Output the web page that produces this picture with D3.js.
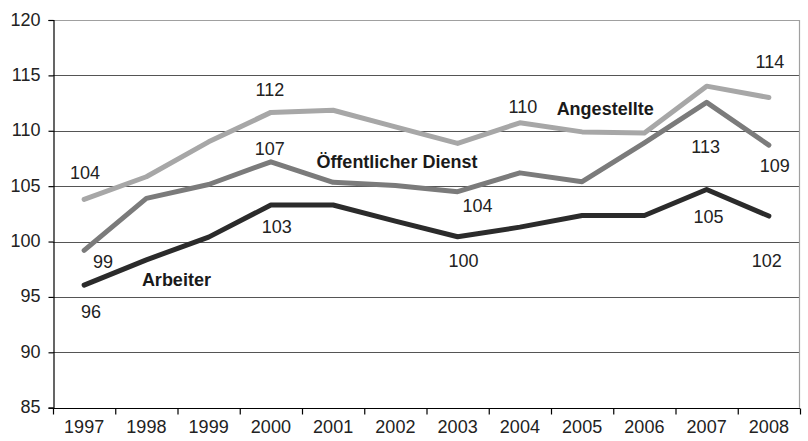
<!DOCTYPE html>
<html><head><meta charset="utf-8">
<script src="https://cdn.jsdelivr.net/npm/d3@7"></script>
<style>
html,body{margin:0;padding:0;background:#fff;}
svg text{font-family:"Liberation Sans Narrow","Arial Narrow","Liberation Sans",sans-serif;}
</style></head>
<body><svg id="c" width="808" height="441"></svg>
<script>
const years = [1997,1998,1999,2000,2001,2002,2003,2004,2005,2006,2007,2008];
const angestellte = [103.8,105.85,109.0,111.66,111.85,110.35,108.86,110.72,109.9,109.8,114.03,113.0];
const oeffentlich = [99.2,103.9,105.15,107.2,105.35,105.05,104.5,106.2,105.4,108.9,112.56,108.7];
const arbeiter    = [96.07,98.35,100.4,103.3,103.3,101.85,100.43,101.3,102.35,102.35,104.7,102.3];
const yTicks = [85,90,95,100,105,110,115,120];

const seriesNames = ["Angestellte","Öffentlicher Dienst","Arbeiter"];
const seriesValues = [angestellte, oeffentlich, arbeiter];
const seriesColors = ["#a7a7a7","#7b7b7b","#2b2b2b"];

// value labels: [year, anchor value, text]
const labelsAng = [[1997,105.65,"104"],[2000,113.14,"112"],[2004,111.63,"110"],[2008,115.67,"114"]];
const labelsOef = [[1997,97.61,"99"],[2000,107.81,"107"],[2003,102.67,"104"],[2007,107.99,"113"],[2008,106.28,"109"]];
const labelsArb = [[1997,93.12,"96"],[2000,100.77,"103"],[2003,97.73,"100"],[2007,101.67,"105"],[2008,97.73,"102"]];
// series name labels: [year, anchor value]
const nameAnchors = [[2005,111.42],[2002,106.65],[1998,95.99]];

const svg = d3.select("#c");
const L = 53, R = 800, T = 20, B = 407.7;
const x = d3.scaleBand().domain(years).range([L,R]).paddingInner(0).paddingOuter(0);
const xEdge = d3.scaleLinear().domain([years[0], years[years.length-1]+1]).range([L,R]);
const y = d3.scaleLinear().domain([85,120]).range([B,T]);
const xc = yr => x(yr) + x.bandwidth()/2;

// gridlines
svg.append("g").selectAll("line").data(yTicks.filter(v=>v>85))
  .join("line")
  .attr("x1",L).attr("x2",R)
  .attr("y1",d=>Math.round(y(d))+0.5).attr("y2",d=>Math.round(y(d))+0.5)
  .attr("stroke",d=>d===120?"#a0a0a0":"#555").attr("stroke-width",1.2);
// right border
svg.append("line").attr("x1",R-0.5).attr("x2",R-0.5).attr("y1",y(120)).attr("y2",y(85))
  .attr("stroke","#a0a0a0").attr("stroke-width",1.2);

// y axis
const yAxis = d3.axisLeft(y).tickValues(yTicks).tickSize(5).tickPadding(8).tickFormat(d3.format("d"));
const gy = svg.append("g").attr("transform",`translate(${L+0.5},0)`).call(yAxis);
gy.select(".domain").attr("stroke","#000").attr("stroke-width",1.2);
gy.selectAll(".tick line").attr("stroke","#000").attr("stroke-width",1.2);
gy.selectAll(".tick text").attr("font-size",18).attr("fill","#222").attr("dy","0.28em")
  .style("font-family","'Liberation Sans Narrow','Arial Narrow',sans-serif");

// x axis: boundary ticks
const edgeTicks = d3.range(years[0], years[years.length-1]+2);
const xAxisEdges = d3.axisBottom(xEdge).tickValues(edgeTicks).tickSize(6).tickFormat("");
const gx = svg.append("g").attr("transform",`translate(0,${Math.round(B)+0.5})`).call(xAxisEdges);
gx.select(".domain").attr("stroke","#000").attr("stroke-width",1.2).attr("d",`M${L},0H${R}`);
gx.selectAll(".tick line").attr("stroke","#000").attr("stroke-width",1.2);
// x axis labels at band centers
const xAxisLabels = d3.axisBottom(x).tickSize(0).tickPadding(12).tickFormat(d3.format("d"));
const gxl = svg.append("g").attr("transform",`translate(0,${Math.round(B)})`).call(xAxisLabels);
gxl.select(".domain").remove();
gxl.selectAll(".tick text").attr("font-size",18).attr("fill","#222")
  .style("font-family","'Liberation Sans Narrow','Arial Narrow',sans-serif");

// lines
const line = d3.line().x((d,i)=>xc(years[i])).y(d=>y(d));
seriesValues.forEach((vals,i)=>{
  svg.append("path").datum(vals).attr("d",line)
    .attr("fill","none").attr("stroke",seriesColors[i]).attr("stroke-width",5)
    .attr("stroke-linejoin","round").attr("stroke-linecap","round");
});

// value labels
const dxAng = [1,-1,3,1], dxOef=[19,-1,20,-1,6], dxArb=[7,6,6,2,-2];
function addLabels(arr, dxs){
  svg.append("g").selectAll("text").data(arr).join("text")
    .attr("x",(d,i)=>xc(d[0])+dxs[i]).attr("y",d=>y(d[1]))
    .attr("text-anchor","middle").attr("font-size",18).attr("fill","#222")
    .text(d=>d[2]);
}
addLabels(labelsAng,dxAng); addLabels(labelsOef,dxOef); addLabels(labelsArb,dxArb);

// series names
const nameDx = [-25.5,-79,-4.5];
svg.append("g").selectAll("text").data(seriesNames).join("text")
  .attr("x",(d,i)=>xc(nameAnchors[i][0])+nameDx[i]).attr("y",(d,i)=>y(nameAnchors[i][1]))
  .attr("text-anchor","start").attr("font-size",18).attr("font-weight","bold").attr("fill","#1a1a1a")
  .text(d=>d);
</script></body></html>
